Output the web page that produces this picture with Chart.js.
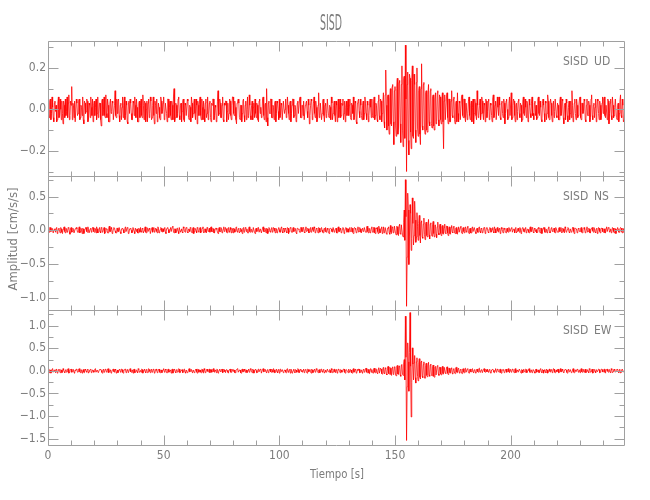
<!DOCTYPE html>
<html>
<head>
<meta charset="utf-8">
<script src="https://cdn.jsdelivr.net/npm/chart.js@4.4.1/dist/chart.umd.min.js"></script>
<style>
  body { margin: 0; background: #fff; }
  canvas { display: block; }
</style>
</head>
<body>
<canvas id="seismo" width="650" height="500"></canvas>
<script>
const stationName = 'SISD'
const components = ['UD', 'NS', 'EW']
const sampleInterval = 0.25

// acceleration traces, one value every 0.25 s (cm/s/s), one row = 10 s
const udValues = [
  0.03,-0.02,-0.04,0.04,0.05,-0.05,-0.02,0.06,0.01,-0.04,-0.06,0.03,0.04,-0.01,0.02,-0.06,-0.05,0.03,0.06,-0.04,-0.03,0.05,0.00,-0.05,0.04,-0.02,-0.07,0.04,0.02,-0.04,0.05,-0.03,-0.01,0.06,-0.04,0.03,0.07,-0.05,-0.03,0.04,
  0.02,0.11,-0.05,0.03,0.02,-0.04,0.04,-0.06,-0.06,0.05,0.03,-0.03,-0.02,0.04,0.05,-0.05,-0.04,0.02,0.01,-0.03,0.06,-0.05,-0.07,0.04,0.03,-0.02,-0.01,0.05,0.04,-0.06,-0.05,0.03,0.02,-0.04,0.06,0.01,-0.03,0.05,-0.06,0.02,
  0.04,-0.03,0.01,0.05,-0.05,-0.02,0.06,-0.04,-0.02,0.03,0.03,-0.05,-0.08,0.04,0.05,-0.03,0.00,0.06,-0.03,-0.04,0.07,-0.02,-0.04,0.05,0.02,-0.06,-0.06,0.03,0.05,-0.02,-0.01,0.04,0.03,-0.05,-0.05,0.02,0.09,-0.03,-0.04,0.05,
  -0.02,0.04,0.05,-0.03,-0.06,0.02,0.03,-0.05,0.01,0.06,-0.04,0.02,0.06,-0.05,-0.03,0.04,0.02,-0.06,-0.07,0.03,0.04,-0.02,0.05,0.03,-0.02,-0.05,-0.05,0.04,0.03,-0.03,0.06,0.02,-0.04,0.05,0.01,-0.06,-0.06,0.03,0.04,-0.04,
  0.02,0.05,-0.03,-0.04,0.07,0.02,-0.05,0.04,0.03,-0.06,0.00,0.04,-0.06,0.03,0.05,-0.04,-0.02,0.06,0.04,-0.05,-0.04,0.02,0.06,-0.03,-0.07,0.04,0.02,-0.02,0.05,-0.06,-0.03,0.03,0.01,-0.04,-0.05,0.06,0.04,-0.02,-0.01,0.03,
  0.06,-0.05,-0.04,0.03,0.03,-0.02,-0.06,0.05,0.05,-0.04,0.01,0.04,-0.03,-0.05,0.04,0.02,-0.05,0.06,0.10,-0.06,-0.04,0.03,0.02,-0.04,-0.02,0.05,0.06,-0.03,-0.05,0.02,0.03,-0.06,-0.01,0.04,0.05,-0.05,-0.06,0.03,0.02,-0.03,
  -0.03,0.05,0.04,-0.04,-0.05,0.02,0.01,-0.06,0.06,0.03,-0.04,-0.02,0.03,0.05,-0.02,-0.05,0.05,0.02,-0.07,0.04,0.02,-0.03,0.04,0.06,-0.03,-0.05,0.05,0.01,-0.05,0.04,0.00,-0.06,0.03,0.05,-0.04,-0.02,0.06,-0.05,-0.02,0.03,
  0.04,-0.04,-0.06,0.03,0.02,0.05,0.05,-0.05,-0.03,0.02,0.01,-0.06,-0.05,0.04,0.09,-0.03,-0.02,0.05,0.03,-0.04,-0.04,0.02,0.06,-0.05,-0.06,0.03,0.02,0.04,0.04,-0.06,-0.01,0.03,-0.05,-0.02,0.05,0.04,-0.03,-0.05,0.02,0.06,
  0.06,-0.02,-0.03,0.04,0.01,-0.05,-0.07,0.03,0.04,0.05,0.03,-0.04,-0.05,0.02,0.02,-0.06,-0.02,0.04,0.05,-0.03,-0.06,0.02,0.04,-0.05,0.00,0.06,-0.04,-0.03,0.07,0.02,-0.03,-0.05,0.02,0.04,-0.05,0.01,0.03,-0.04,0.05,-0.02,
  -0.04,0.03,0.02,-0.05,-0.06,0.04,0.05,-0.02,0.01,-0.04,-0.03,0.05,0.06,-0.03,-0.05,0.02,0.03,-0.06,0.10,-0.04,-0.08,0.03,0.04,-0.02,-0.02,0.05,0.05,-0.04,-0.04,0.02,0.01,-0.05,0.03,0.04,-0.06,-0.02,0.04,0.03,-0.01,-0.05,
  0.05,-0.04,-0.03,0.03,0.02,-0.05,-0.05,0.04,0.04,-0.02,0.00,0.05,-0.04,-0.03,0.06,0.02,-0.02,-0.05,0.03,0.04,-0.06,-0.02,0.02,0.05,0.05,-0.04,-0.03,0.02,0.01,-0.06,-0.05,0.03,0.04,-0.02,-0.02,0.05,0.06,-0.04,-0.04,0.02,
  0.02,-0.03,0.04,-0.05,-0.05,0.02,0.03,0.04,-0.01,-0.04,0.05,0.02,-0.07,-0.03,0.02,0.05,0.04,-0.05,-0.03,0.03,0.06,-0.02,-0.04,0.04,0.01,-0.06,-0.05,0.02,0.08,-0.04,-0.03,0.03,0.03,-0.05,-0.02,0.04,0.05,-0.03,-0.06,0.02,
  0.03,-0.04,-0.02,0.05,0.05,-0.03,-0.04,0.02,0.01,-0.05,0.06,0.03,-0.05,-0.02,0.02,0.04,-0.03,-0.06,0.04,0.02,-0.06,0.03,0.05,-0.04,0.00,0.05,-0.04,-0.03,0.03,0.02,0.05,-0.05,-0.02,0.04,-0.06,0.01,0.04,-0.03,0.01,0.05,
  -0.03,0.02,0.05,-0.04,-0.05,0.03,0.02,-0.02,0.06,-0.05,-0.04,0.04,0.03,-0.06,-0.07,0.03,0.04,0.05,-0.01,-0.04,0.05,0.02,-0.03,-0.05,0.02,0.04,-0.05,-0.02,0.06,0.03,-0.02,-0.05,0.04,0.02,-0.06,-0.03,0.03,0.05,0.01,-0.04,
  0.05,-0.03,-0.04,0.04,0.06,-0.05,-0.03,0.03,0.02,-0.05,-0.06,0.04,0.07,-0.03,-0.05,0.05,0.04,-0.06,-0.02,0.03,0.08,-0.06,-0.09,0.07,0.19,0.02,-0.10,0.06,0.07,-0.08,-0.12,0.05,0.10,-0.07,-0.08,0.11,0.12,-0.06,-0.17,0.09,
  0.11,-0.08,-0.13,0.10,0.15,-0.12,-0.09,0.13,0.14,-0.07,-0.16,0.12,0.21,-0.10,-0.18,0.15,0.16,-0.14,0.31,0.05,-0.30,0.12,0.18,-0.15,-0.22,0.17,0.15,-0.11,-0.19,0.14,0.21,-0.13,-0.14,0.17,0.12,-0.10,-0.16,0.13,0.20,-0.09,
  -0.13,0.09,0.11,-0.12,-0.17,0.10,0.22,-0.08,-0.10,0.12,0.13,-0.09,-0.12,0.08,0.09,-0.10,-0.11,0.07,0.12,-0.06,-0.08,0.09,0.10,-0.07,-0.09,0.06,0.07,-0.08,-0.10,0.05,0.08,-0.07,-0.06,0.08,0.09,-0.05,-0.08,0.07,0.06,-0.05,
  -0.07,0.05,0.08,-0.06,-0.19,0.04,0.07,-0.05,-0.05,0.06,0.08,-0.04,-0.07,0.05,0.05,-0.06,-0.06,0.04,0.09,-0.03,-0.04,0.05,0.06,-0.05,-0.07,0.03,0.04,-0.06,0.08,-0.02,-0.06,0.04,0.03,-0.05,-0.05,0.06,0.07,-0.03,-0.04,0.05,
  0.05,-0.04,-0.06,0.03,0.03,-0.05,-0.02,0.04,0.06,-0.03,-0.05,0.02,0.04,-0.06,0.01,0.05,-0.07,-0.02,0.05,0.03,-0.03,-0.05,0.09,0.02,-0.04,-0.03,0.02,0.05,-0.05,-0.02,0.06,0.04,-0.02,-0.05,0.03,0.02,-0.06,0.05,0.04,-0.04,
  -0.01,0.04,0.05,-0.05,-0.04,0.03,0.02,-0.03,-0.06,0.05,0.07,-0.04,-0.03,0.02,0.04,-0.05,-0.05,0.06,0.01,-0.03,0.06,0.02,-0.04,-0.05,0.03,0.04,-0.02,-0.04,0.05,0.03,-0.07,-0.02,0.04,0.05,0.00,-0.05,-0.04,0.03,0.06,-0.03,
  -0.03,0.08,-0.05,-0.04,0.02,0.05,0.04,-0.03,-0.06,0.02,0.03,-0.05,-0.01,0.04,0.05,-0.02,-0.04,0.03,0.02,-0.06,-0.05,0.04,0.06,-0.02,-0.03,0.05,0.01,-0.04,0.04,0.03,-0.06,-0.05,0.05,0.02,-0.02,-0.04,0.03,0.06,-0.03,-0.02,
  -0.05,0.03,0.04,-0.03,0.02,-0.05,-0.04,0.05,0.06,-0.02,-0.03,0.04,0.01,-0.05,-0.06,0.03,0.05,0.02,-0.02,-0.06,0.04,0.03,-0.05,-0.02,0.07,0.04,-0.04,-0.05,0.02,0.05,0.03,-0.03,-0.06,0.02,0.04,-0.04,-0.01,0.05,0.05,-0.03,
  -0.04,0.03,0.02,-0.05,-0.05,0.04,0.06,-0.03,-0.02,0.05,0.04,-0.04,-0.07,0.02,0.03,-0.05,0.05,0.03,-0.03,-0.06,0.01,0.04,-0.05,-0.02,0.04,-0.04,0.09,0.02,-0.06,-0.03,0.03,0.05,-0.02,-0.05,0.05,0.02,-0.04,-0.03,0.02,0.05,
  0.06,-0.04,-0.05,0.03,0.03,-0.02,-0.01,0.05,0.04,-0.05,-0.06,0.02,0.05,-0.03,-0.03,0.04,0.02,-0.06,-0.04,0.05,0.07,-0.03,-0.05,0.02,0.03,-0.04,0.01,0.05,-0.06,-0.02,0.05,0.04,-0.02,-0.05,0.04,0.02,-0.05,-0.03,0.03,0.06,
  -0.02,0.05,0.06,-0.03,-0.04,0.02,0.02,-0.05,0.05,0.04,-0.07,-0.02,0.03,0.05,-0.03,-0.05,0.06,0.02,-0.04,-0.03,0.01,0.05,0.05,-0.04,-0.05,0.02,0.03,-0.06,-0.02,0.04,0.07,-0.03,-0.04,0.05,0.02,-0.06,-0.05,0.03,0.04,-0.02
]

const nsValues = [
  0.02,-0.03,-0.03,0.04,0.04,-0.02,-0.01,0.03,0.03,-0.04,-0.04,0.02,0.01,-0.03,0.03,0.04,-0.05,-0.02,0.02,0.03,-0.02,-0.04,0.04,0.02,-0.03,-0.05,0.01,0.04,0.05,-0.02,-0.04,0.03,0.02,-0.03,-0.01,0.04,0.03,-0.02,-0.06,0.03,
  0.04,-0.03,-0.02,0.03,0.01,-0.04,-0.04,0.02,0.03,0.04,0.02,-0.03,-0.03,0.02,0.05,-0.04,-0.02,0.03,0.00,-0.05,0.03,0.02,-0.05,-0.03,0.02,0.04,0.04,-0.02,-0.03,0.05,0.01,-0.04,-0.04,0.02,0.03,-0.03,-0.01,0.04,0.04,-0.02,
  -0.03,0.03,0.02,-0.04,0.05,0.02,-0.04,-0.03,0.01,0.04,-0.02,-0.04,0.04,0.03,-0.03,-0.02,0.02,0.04,-0.05,-0.03,0.03,0.02,0.01,-0.04,-0.04,0.03,0.06,-0.02,-0.02,0.04,0.02,-0.05,-0.03,0.02,0.04,0.03,-0.01,-0.04,-0.04,0.03,
  0.03,-0.02,-0.02,0.04,0.04,-0.03,-0.05,0.02,0.02,0.03,0.01,-0.04,-0.03,0.03,0.05,-0.02,-0.02,0.04,0.03,-0.05,-0.04,0.02,0.02,0.03,0.00,-0.04,-0.03,0.04,0.04,-0.02,-0.05,0.03,0.03,-0.02,0.02,-0.04,-0.04,0.03,0.01,-0.03,
  0.04,-0.02,-0.03,0.03,0.02,-0.04,-0.01,0.02,0.05,-0.03,-0.04,0.04,0.03,-0.02,-0.02,0.03,0.01,-0.05,-0.05,0.02,0.04,-0.03,0.02,0.04,-0.03,-0.02,0.03,0.02,-0.02,-0.04,0.05,0.03,-0.04,-0.03,0.01,0.04,0.03,-0.02,-0.03,0.02,
  -0.02,0.03,0.04,-0.03,-0.05,0.02,0.03,0.04,0.01,-0.04,-0.03,0.02,0.04,-0.02,-0.02,0.05,0.06,-0.03,-0.04,0.02,0.02,-0.04,-0.01,0.03,0.03,-0.02,-0.05,0.04,0.04,-0.03,0.00,0.02,-0.03,-0.04,0.05,0.03,-0.02,-0.03,0.02,0.04,
  0.03,-0.03,-0.04,0.02,0.01,-0.02,0.04,0.03,-0.03,-0.04,0.02,0.04,-0.05,-0.02,0.03,0.02,-0.01,-0.04,0.04,0.03,-0.02,-0.03,0.03,0.04,-0.04,-0.02,0.01,0.03,0.05,-0.04,-0.03,0.02,0.02,-0.03,-0.04,0.04,0.03,-0.02,-0.01,0.03,
  -0.03,0.04,0.05,-0.02,-0.02,0.03,0.02,-0.04,-0.04,0.02,0.03,0.03,0.01,-0.03,-0.05,0.02,0.04,-0.02,-0.02,0.04,0.03,-0.04,-0.03,0.02,0.05,-0.02,-0.01,0.04,0.02,-0.03,-0.04,0.03,0.04,-0.02,-0.03,0.04,0.01,-0.04,0.03,0.02,
  -0.04,0.03,0.02,-0.03,-0.01,0.04,0.05,-0.02,-0.03,0.02,0.03,-0.04,-0.02,0.03,0.01,-0.02,-0.05,0.03,0.04,-0.03,-0.02,0.04,0.03,-0.02,0.02,-0.04,-0.04,0.03,0.05,-0.02,-0.03,0.02,0.01,-0.03,-0.02,0.04,0.04,-0.03,-0.05,0.02,
  0.03,-0.02,-0.01,0.04,0.04,-0.03,-0.03,0.02,0.02,-0.04,-0.04,0.03,0.05,-0.02,-0.02,0.03,0.01,-0.04,0.03,0.02,-0.05,-0.02,0.04,0.03,-0.02,-0.03,0.02,0.04,-0.03,-0.02,0.04,0.03,-0.01,-0.04,0.03,0.02,-0.04,-0.03,0.02,0.04,
  0.01,-0.03,-0.03,0.04,0.05,-0.02,-0.04,0.03,0.02,-0.03,0.03,0.02,-0.02,-0.04,0.04,0.03,-0.05,-0.02,0.01,0.04,0.03,-0.03,-0.03,0.02,0.04,-0.02,-0.01,0.03,0.02,-0.04,-0.05,0.03,0.03,0.02,0.01,-0.03,-0.03,0.04,0.04,-0.02,
  -0.02,0.04,0.03,-0.03,-0.04,0.02,0.05,-0.02,-0.01,0.03,0.02,-0.04,-0.03,0.02,0.04,-0.03,-0.02,0.04,0.01,-0.02,0.05,0.03,-0.04,-0.03,0.03,0.02,-0.02,-0.04,0.04,0.03,-0.03,-0.02,0.02,0.04,0.00,-0.03,-0.04,0.02,0.03,-0.02,
  0.04,-0.03,-0.02,0.03,0.01,-0.04,-0.05,0.02,0.03,0.03,0.02,-0.02,-0.03,0.04,0.04,-0.03,-0.01,0.02,0.03,-0.04,-0.04,0.03,0.05,-0.02,-0.02,0.03,0.01,-0.04,-0.03,0.02,0.04,0.03,-0.05,-0.02,0.02,0.04,0.03,-0.03,-0.02,0.02,
  -0.03,0.03,0.04,-0.02,-0.02,0.04,0.03,-0.03,-0.05,0.02,0.04,0.03,0.01,-0.04,-0.03,0.02,0.05,-0.03,-0.02,0.04,0.02,-0.03,-0.04,0.02,0.03,-0.02,-0.01,0.04,0.04,-0.03,-0.03,0.05,0.06,-0.02,-0.04,0.03,0.02,-0.04,-0.02,0.03,
  0.05,-0.03,-0.03,0.04,0.04,-0.04,-0.05,0.03,0.02,0.04,-0.02,-0.05,0.06,0.02,-0.04,-0.03,0.03,0.05,-0.05,-0.02,0.05,-0.04,-0.03,0.04,0.04,-0.05,-0.06,0.03,0.03,0.05,-0.04,-0.06,0.07,-0.03,-0.05,0.05,0.04,-0.04,-0.03,0.06,
  0.06,-0.05,-0.07,0.06,0.05,-0.06,-0.08,0.07,0.09,-0.05,-0.06,0.08,0.08,-0.07,-0.10,0.12,0.30,-0.15,0.75,0.20,-1.13,-0.40,0.55,0.30,-0.51,-0.10,0.38,0.25,-0.30,-0.12,0.48,0.10,-0.22,-0.08,0.43,0.15,-0.18,-0.10,0.26,0.05,
  -0.15,0.10,0.22,-0.08,-0.19,0.12,0.14,-0.10,-0.12,0.09,0.18,-0.06,-0.14,0.10,0.12,-0.08,-0.10,0.06,0.16,-0.07,-0.13,0.09,0.11,-0.06,-0.09,0.08,0.13,-0.05,-0.10,0.07,0.08,-0.06,-0.11,0.05,0.12,-0.04,-0.07,0.06,0.09,-0.05,
  -0.08,0.05,0.07,-0.05,-0.06,0.04,0.09,-0.04,-0.05,0.06,0.06,-0.04,-0.08,0.03,0.05,-0.05,-0.06,0.04,0.07,-0.03,-0.04,0.05,0.06,-0.04,-0.05,0.03,0.04,-0.05,-0.06,0.02,0.05,-0.03,-0.03,0.04,0.06,-0.04,-0.05,0.03,0.04,-0.02,
  -0.04,0.03,0.05,-0.02,-0.03,0.04,0.06,-0.03,-0.05,0.02,0.03,-0.04,-0.04,0.03,0.05,-0.02,-0.02,0.04,0.04,-0.03,-0.05,0.02,0.03,-0.03,-0.03,0.04,0.05,-0.02,-0.04,0.03,0.02,-0.04,-0.03,0.02,0.04,0.03,-0.05,-0.02,0.03,0.04,
  0.02,-0.03,-0.04,0.02,0.04,0.03,-0.03,-0.02,0.01,0.04,-0.02,-0.04,0.05,0.02,-0.04,-0.03,0.03,0.04,-0.01,-0.03,0.02,0.03,-0.05,-0.02,0.04,0.02,-0.02,-0.04,0.03,0.03,0.01,-0.03,-0.04,0.02,0.03,-0.02,-0.03,0.04,0.02,-0.02,
  -0.02,0.03,0.04,-0.03,-0.03,0.02,0.01,-0.04,0.03,0.04,-0.04,-0.02,0.02,0.03,-0.01,-0.03,0.04,0.02,-0.05,-0.03,0.03,0.04,0.02,-0.02,-0.03,0.03,0.04,-0.04,-0.02,0.02,0.01,-0.03,-0.04,0.03,0.05,-0.02,-0.02,0.04,0.03,-0.03,
  -0.04,0.03,0.02,-0.02,0.01,-0.04,-0.03,0.03,0.04,0.02,-0.02,-0.04,0.03,0.03,-0.05,-0.02,0.02,0.04,0.04,-0.03,-0.03,0.02,0.01,-0.04,-0.02,0.03,0.05,-0.02,-0.04,-0.03,0.03,0.04,-0.01,-0.02,0.02,0.03,-0.03,-0.04,0.04,0.02,
  0.02,-0.03,-0.03,0.03,0.04,-0.02,-0.01,0.04,-0.04,-0.03,0.03,0.02,-0.02,-0.04,0.05,0.03,-0.03,-0.02,0.01,0.04,0.03,-0.03,-0.04,0.02,0.02,-0.03,-0.02,0.04,0.04,-0.02,-0.05,0.03,0.03,0.02,0.01,-0.04,-0.03,0.03,0.02,-0.02,
  -0.02,0.03,0.04,-0.03,-0.04,0.02,0.03,0.04,0.01,-0.04,-0.03,0.02,0.05,-0.03,-0.02,0.03,0.02,-0.04,-0.04,0.02,0.03,0.04,-0.01,-0.03,0.04,0.02,-0.03,-0.04,0.02,0.03,-0.05,-0.02,0.04,0.03,-0.02,-0.04,0.01,0.03,0.03,-0.02,
  -0.03,0.02,0.02,-0.04,-0.04,0.03,0.05,-0.02,-0.02,0.04,0.03,-0.03,-0.01,0.02,-0.04,-0.03,0.04,0.03,-0.02,-0.04,0.03,0.02,-0.05,-0.02,0.02,0.04,0.01,-0.03,-0.03,0.02,0.04,0.03,-0.02,-0.04,0.03,0.02,-0.04,-0.03,0.02,0.03
]

const ewValues = [
  0.03,-0.02,-0.04,0.03,0.02,-0.05,-0.02,0.04,0.05,-0.03,-0.03,0.02,0.01,-0.04,0.04,0.03,-0.05,-0.02,0.02,0.04,-0.01,-0.04,0.03,0.02,-0.04,-0.03,0.05,0.02,-0.02,-0.04,0.01,0.03,-0.03,-0.02,0.04,0.05,-0.05,-0.03,0.02,0.03,
  0.04,-0.03,-0.02,0.03,0.03,-0.04,-0.05,0.02,0.01,0.04,0.03,-0.03,-0.02,0.04,0.05,-0.02,-0.04,0.03,0.02,-0.05,0.00,0.03,-0.03,-0.04,0.04,0.02,-0.01,-0.03,0.03,0.04,-0.05,-0.02,0.02,0.03,0.04,-0.04,-0.03,0.02,0.01,-0.03,
  -0.02,0.04,0.05,-0.03,-0.03,0.02,0.02,-0.04,-0.04,0.03,0.03,0.04,0.01,-0.03,-0.05,0.02,0.04,-0.03,-0.02,0.04,0.03,-0.02,-0.03,0.04,0.05,-0.04,-0.01,0.03,0.02,-0.05,-0.04,0.02,0.03,0.04,-0.02,-0.03,0.04,0.02,-0.05,-0.02,
  0.02,-0.04,-0.01,0.03,0.04,-0.02,-0.03,0.04,0.03,-0.03,-0.05,0.02,0.02,0.04,0.04,-0.04,-0.02,0.03,0.01,-0.04,-0.04,0.03,0.05,-0.02,-0.03,0.02,0.02,-0.05,0.03,0.04,-0.04,-0.03,0.01,0.02,-0.02,-0.04,0.05,0.03,-0.03,-0.02,
  0.01,-0.03,0.04,0.03,-0.05,-0.02,0.02,0.04,-0.02,-0.04,0.03,0.02,-0.04,-0.03,0.05,0.03,-0.01,-0.04,0.02,0.04,-0.03,-0.02,0.04,0.03,-0.05,-0.03,0.03,0.04,0.01,-0.04,-0.02,0.03,0.04,-0.03,-0.04,0.02,0.02,-0.04,-0.01,0.03,
  0.05,-0.02,-0.03,0.04,0.02,-0.04,-0.04,0.03,0.04,-0.03,-0.02,0.02,0.01,-0.05,0.03,0.04,-0.05,-0.02,0.04,0.03,-0.02,-0.04,0.02,0.03,-0.03,-0.02,0.05,0.04,-0.04,-0.03,0.01,0.02,0.03,-0.04,-0.02,0.03,0.04,-0.03,-0.05,0.02,
  0.02,-0.04,-0.03,0.03,0.05,-0.02,-0.01,0.04,0.03,-0.03,-0.04,0.02,0.02,-0.04,-0.02,0.03,0.04,-0.02,-0.05,0.04,0.03,-0.03,0.01,0.02,-0.03,-0.04,0.04,0.03,-0.02,-0.05,0.05,0.02,-0.04,-0.03,0.02,0.04,-0.01,-0.02,0.03,0.04,
  -0.04,0.02,0.03,-0.03,-0.02,0.04,0.05,-0.02,-0.03,0.02,0.01,-0.04,0.04,0.03,-0.05,-0.03,0.02,0.04,-0.01,-0.02,0.03,0.04,-0.04,-0.02,0.04,0.02,-0.02,-0.04,0.02,0.03,0.01,-0.03,-0.05,0.02,0.03,0.04,-0.03,-0.03,0.04,0.02,
  -0.01,0.03,0.02,-0.04,-0.04,0.02,0.03,0.04,0.05,-0.03,-0.03,0.02,0.02,-0.04,-0.05,0.03,0.04,-0.02,-0.02,0.04,0.01,-0.03,0.03,0.02,-0.04,-0.03,0.02,0.04,-0.03,-0.02,0.05,0.03,-0.02,-0.04,0.04,0.02,-0.05,-0.03,0.03,0.04,
  0.01,-0.04,-0.03,0.03,0.04,-0.02,-0.02,0.04,0.03,-0.05,-0.05,0.03,0.05,-0.02,-0.01,0.04,0.02,-0.03,-0.04,0.02,0.03,-0.04,-0.02,0.03,0.04,-0.02,-0.03,0.04,0.01,-0.03,0.05,0.02,-0.04,-0.03,0.02,0.04,-0.02,-0.04,0.03,0.02,
  -0.05,0.03,0.04,-0.02,-0.02,0.03,0.03,-0.04,-0.01,0.02,0.02,-0.03,-0.04,0.04,0.05,-0.02,-0.03,0.03,0.02,-0.05,0.04,0.02,-0.05,-0.03,0.01,0.04,-0.02,-0.04,0.03,0.02,-0.03,-0.02,0.05,0.03,-0.04,-0.03,0.02,0.04,0.01,-0.02,
  -0.03,0.02,0.04,-0.04,-0.01,0.03,0.02,-0.03,-0.05,0.04,0.03,-0.02,0.01,0.03,-0.02,-0.05,0.04,0.02,-0.04,-0.03,0.03,0.04,-0.03,-0.02,0.05,0.03,-0.02,-0.04,0.02,0.03,-0.04,-0.02,0.04,0.04,-0.01,-0.03,0.03,0.02,-0.05,-0.02,
  0.02,-0.03,-0.02,0.04,0.04,-0.02,-0.03,0.03,0.01,-0.04,0.05,0.02,-0.04,-0.03,0.03,0.04,-0.02,-0.04,0.02,0.03,-0.05,-0.02,0.04,0.03,-0.01,-0.04,0.03,0.02,-0.03,-0.02,0.02,0.04,0.04,-0.03,-0.05,0.02,0.03,0.03,-0.02,-0.04,
  0.04,-0.02,-0.03,0.03,0.02,-0.04,-0.05,0.03,0.05,-0.03,-0.02,0.04,0.03,-0.05,-0.04,0.03,0.01,0.04,0.04,-0.04,-0.03,0.02,0.02,-0.04,-0.05,0.03,0.04,-0.03,-0.02,0.05,0.06,-0.03,-0.04,0.04,0.03,-0.05,-0.06,0.04,0.05,-0.03,
  0.03,-0.04,-0.05,0.04,0.06,-0.03,-0.04,0.05,0.02,-0.05,-0.06,0.04,0.07,-0.05,-0.05,0.06,0.04,-0.06,-0.07,0.05,0.08,-0.05,-0.06,0.07,0.05,-0.07,-0.09,0.06,0.10,-0.06,-0.07,0.08,0.06,-0.08,-0.10,0.07,0.09,-0.08,-0.06,0.09,
  0.08,-0.09,-0.11,0.10,0.12,-0.07,-0.08,0.11,0.10,-0.09,-0.12,0.13,0.14,-0.08,-0.10,0.15,0.25,-0.20,1.21,0.30,-1.54,-0.35,0.62,0.20,-0.45,0.40,1.29,0.10,-1.02,-0.25,0.51,0.15,-0.20,0.18,0.34,-0.15,-0.27,0.20,0.29,-0.12,
  -0.22,0.15,0.27,-0.14,-0.18,0.20,0.22,-0.12,-0.15,0.14,0.20,-0.16,-0.16,0.12,0.17,-0.10,-0.13,0.11,0.19,-0.09,-0.12,0.13,0.15,-0.10,-0.11,0.09,0.13,-0.12,-0.14,0.08,0.10,-0.09,-0.09,0.11,0.12,-0.07,-0.10,0.08,0.08,-0.07,
  -0.09,0.07,0.10,-0.06,-0.07,0.08,0.08,-0.05,-0.06,0.07,0.09,-0.05,-0.08,0.06,0.06,-0.04,-0.05,0.05,0.07,-0.06,-0.07,0.04,0.05,-0.05,-0.06,0.07,0.08,-0.03,-0.04,0.05,0.06,-0.04,-0.05,0.03,0.04,-0.05,-0.06,0.04,0.05,-0.03,
  -0.04,0.05,0.06,-0.03,-0.03,0.04,0.05,-0.04,-0.05,0.03,0.04,-0.02,-0.02,0.04,0.05,-0.03,-0.04,0.02,0.03,-0.04,-0.05,0.03,0.04,-0.02,-0.03,0.05,0.06,-0.03,-0.02,0.02,0.03,-0.04,-0.04,0.03,0.05,-0.02,-0.03,0.04,0.02,-0.02,
  0.04,-0.02,-0.03,0.03,0.02,-0.04,-0.05,0.02,0.03,0.04,0.01,-0.03,-0.04,0.02,0.05,-0.03,-0.02,0.04,0.03,-0.02,-0.03,0.03,0.04,-0.04,-0.05,0.02,0.02,0.03,0.01,-0.04,-0.03,0.02,0.04,-0.03,-0.02,0.04,0.05,-0.02,-0.04,0.03,
  0.02,-0.03,-0.01,0.04,0.03,-0.02,-0.04,0.03,0.05,-0.04,-0.02,0.02,0.01,-0.03,-0.03,0.04,0.04,-0.02,-0.05,0.03,0.02,-0.04,0.03,0.02,-0.02,-0.03,0.04,0.03,-0.04,-0.02,0.01,0.04,0.05,-0.03,-0.03,0.02,0.02,-0.04,-0.02,0.03,
  0.03,-0.02,-0.05,0.03,0.04,-0.03,-0.01,0.02,0.02,-0.04,-0.03,0.04,0.05,-0.02,-0.04,0.03,0.02,-0.05,0.01,0.03,-0.02,-0.04,0.04,0.02,-0.05,-0.02,0.03,0.04,-0.01,-0.03,0.02,0.03,-0.04,-0.02,0.05,0.04,-0.03,-0.04,0.01,0.02,
  -0.02,0.03,0.04,-0.04,-0.03,0.02,0.05,-0.02,-0.02,0.04,0.01,-0.03,-0.04,0.02,0.03,0.04,0.02,-0.03,-0.05,0.02,0.04,-0.02,-0.01,0.03,0.03,-0.04,-0.03,0.02,0.05,-0.03,-0.04,0.03,0.02,-0.02,-0.02,0.04,0.03,-0.03,0.01,0.02,
  -0.04,0.03,0.05,-0.02,-0.03,0.04,0.02,-0.03,0.01,0.04,-0.04,-0.02,0.03,0.02,-0.02,-0.04,0.05,0.03,-0.03,-0.02,0.02,0.04,-0.05,-0.03,0.04,0.02,-0.01,-0.04,0.03,0.03,-0.02,-0.02,0.04,0.03,-0.04,-0.03,0.01,0.04,0.03,-0.02,
  -0.02,0.03,0.04,-0.03,-0.05,0.02,0.03,0.04,-0.01,-0.03,0.02,0.03,-0.03,-0.04,0.05,0.02,-0.04,-0.02,0.02,0.04,0.01,-0.03,-0.03,0.02,0.04,0.03,-0.02,-0.04,0.03,0.02,-0.05,-0.03,0.02,0.04,0.04,-0.02,-0.03,0.03,0.01,-0.02
]

// axis ranges and ticks
const timeRange = [0, 249]
const timeTicks = [0, 50, 100, 150, 200]
const timeMinorTicks = [10, 20, 30, 40, 60, 70, 80, 90, 110, 120, 130, 140, 160, 170, 180, 190, 210, 220, 230, 240]

const udRange = [-0.32, 0.33]
const udTicks = [-0.2, 0.0, 0.2]
const udMinorTicks = [-0.3, -0.1, 0.1, 0.3]

const nsRange = [-1.19, 0.81]
const nsTicks = [-1.0, -0.5, 0.0, 0.5]
const nsMinorTicks = [-0.75, -0.25, 0.25, 0.75]

const ewRange = [-1.64, 1.34]
const ewTicks = [-1.5, -1.0, -0.5, 0.0, 0.5, 1.0]
const ewMinorTicks = [-1.25, -0.75, -0.25, 0.25, 0.75, 1.25]

const titleText = 'SISD'
const xTitle = 'Tiempo [s]'
const yTitle = 'Amplitud [cm/s/s]'

const traceColor = 'rgb(255,0,0)'
const axisColor = '#a0a0a0'
const textColor = '#7c7c7c'
const narrowFont = '"Liberation Sans Narrow", "DejaVu Sans Condensed", "Liberation Sans", sans-serif'

const panels = [
  { id: 'yUD', values: udValues, range: udRange, ticks: udTicks, minor: udMinorTicks, weight: 3 },
  { id: 'yNS', values: nsValues, range: nsRange, ticks: nsTicks, minor: nsMinorTicks, weight: 2 },
  { id: 'yEW', values: ewValues, range: ewRange, ticks: ewTicks, minor: ewMinorTicks, weight: 1 }
]

function formatTick(v) {
  const s = Math.abs(v).toFixed(1)
  return v < 0 ? '\u2212' + s : s
}

function drawFitted(ctx, text, x, y, width, size, rotate) {
  ctx.save()
  ctx.font = size + 'px ' + narrowFont
  const w = ctx.measureText(text).width
  ctx.translate(x, y)
  if (rotate) ctx.rotate(-Math.PI / 2)
  ctx.scale(width / w, 1)
  ctx.textAlign = 'center'
  ctx.textBaseline = 'middle'
  ctx.fillText(text, 0, 0)
  ctx.restore()
}

// frame, inward ticks and labels in the IDL style
const framePlugin = {
  id: 'frame',
  afterDraw(chart) {
    const ctx = chart.ctx
    const xs = chart.scales.x
    const left = Math.round(chart.chartArea.left) + 0.5
    const right = Math.round(chart.chartArea.right) + 0.5

    ctx.save()
    ctx.strokeStyle = axisColor
    ctx.lineWidth = 1

    panels.forEach(p => {
      const ys = chart.scales[p.id]
      const top = Math.round(ys.top) + 0.5
      const bottom = Math.round(ys.bottom) + 0.5
      ctx.beginPath()
      ctx.rect(left, top, right - left, bottom - top)

      const xMarks = timeTicks.map(v => [v, 10]).concat(timeMinorTicks.map(v => [v, 5]))
      xMarks.forEach(([v, len]) => {
        const px = Math.round(xs.getPixelForValue(v)) + 0.5
        ctx.moveTo(px, bottom); ctx.lineTo(px, bottom - len)
        ctx.moveTo(px, top); ctx.lineTo(px, top + len)
      })

      const yMarks = p.ticks.map(v => [v, 10]).concat(p.minor.map(v => [v, 5]))
      yMarks.forEach(([v, len]) => {
        const py = Math.round(ys.getPixelForValue(v)) + 0.5
        ctx.moveTo(left, py); ctx.lineTo(left + len, py)
        ctx.moveTo(right, py); ctx.lineTo(right - len, py)
      })
      ctx.stroke()
    })

    ctx.fillStyle = textColor
    ctx.font = '12px ' + narrowFont
    ctx.textAlign = 'left'
    ctx.textBaseline = 'middle'
    panels.forEach((p, i) => {
      const ys = chart.scales[p.id]
      ctx.fillText(stationName, 563, ys.top + 21)
      ctx.fillText(components[i], 594, ys.top + 21)
    })

    drawFitted(ctx, titleText, 331, 24, 22, 22, false)
    drawFitted(ctx, xTitle, 337, 475, 54, 13, false)
    drawFitted(ctx, yTitle, 14, 239, 103, 13, true)
    ctx.restore()
  }
}

Chart.defaults.font.family = narrowFont
Chart.defaults.font.size = 12
Chart.defaults.color = textColor

const scales = {
  x: {
    type: 'linear',
    position: 'bottom',
    min: timeRange[0],
    max: timeRange[1],
    afterBuildTicks: scale => { scale.ticks = timeTicks.map(v => ({ value: v })) },
    afterFit: scale => { scale.height = 55 },
    grid: { display: false, drawTicks: false },
    border: { display: false },
    ticks: { padding: 4, maxRotation: 0, autoSkip: false, callback: v => String(v) }
  }
}

panels.forEach(p => {
  scales[p.id] = {
    type: 'linear',
    position: 'left',
    stack: 'panels',
    stackWeight: 1,
    weight: p.weight,
    min: p.range[0],
    max: p.range[1],
    afterBuildTicks: scale => { scale.ticks = p.ticks.map(v => ({ value: v })) },
    afterFit: scale => { scale.width = 48 },
    grid: { display: false, drawTicks: false },
    border: { display: false },
    ticks: { padding: 2, autoSkip: false, callback: v => formatTick(v) }
  }
})

const datasets = panels.map(p => ({
  data: p.values.map((v, i) => ({ x: i * sampleInterval, y: v })),
  yAxisID: p.id,
  xAxisID: 'x',
  borderColor: traceColor,
  borderWidth: 0.8,
  pointRadius: 0,
  fill: false,
  tension: 0
}))

new Chart(document.getElementById('seismo'), {
  type: 'line',
  data: { datasets },
  options: {
    responsive: false,
    animation: false,
    layout: { padding: { left: 0, right: 26, top: 41, bottom: 0 } },
    plugins: { legend: { display: false }, tooltip: { enabled: false } },
    scales
  },
  plugins: [framePlugin]
})
</script>
</body>
</html>
